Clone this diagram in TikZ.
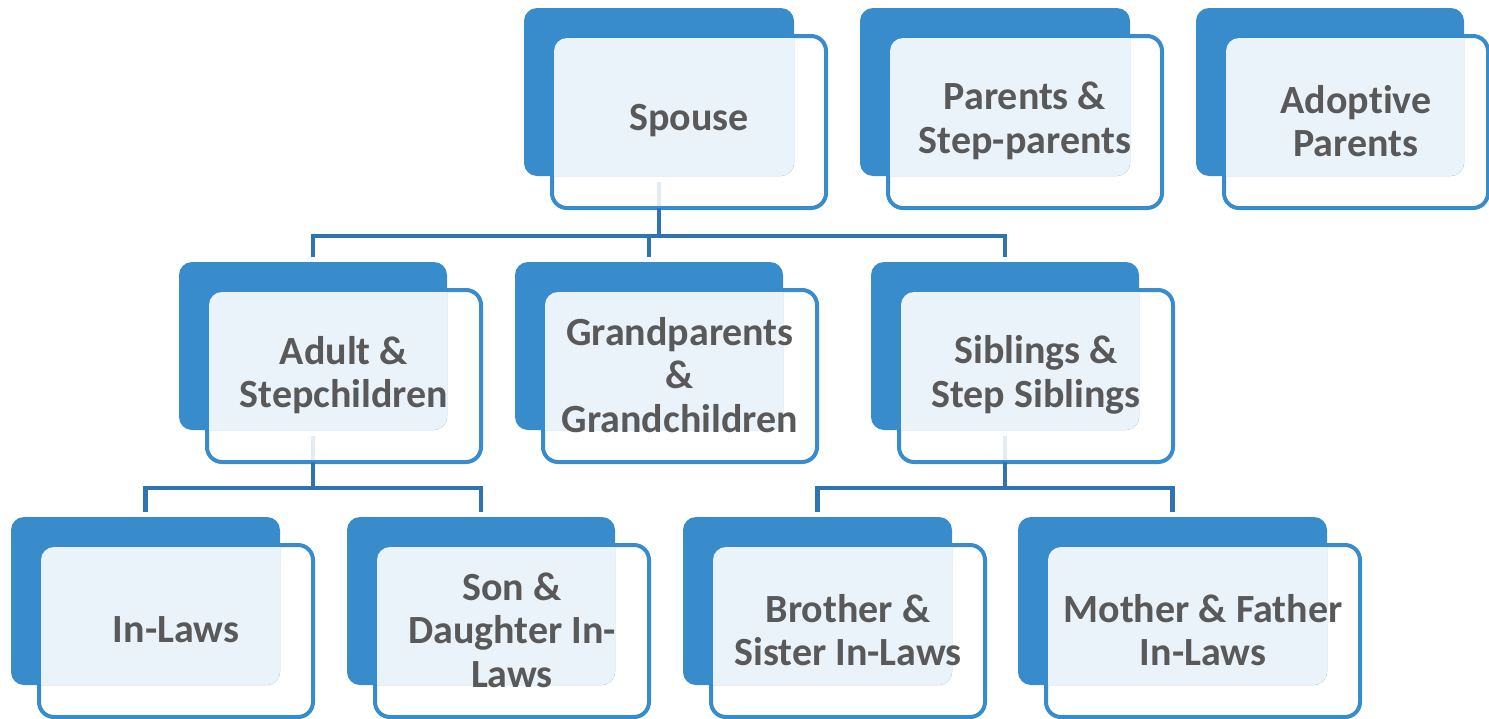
\documentclass[tikz,border=0pt]{standalone}
\usepackage{fontspec}
\setmainfont{Carlito}[Ligatures=NoCommon]
\usetikzlibrary{calc}
\definecolor{backblue}{HTML}{388CCB}
\definecolor{lightc}{HTML}{EAF2FA}
\definecolor{connc}{HTML}{2F74B0}
\definecolor{stemlight}{HTML}{E3EBF4}
\definecolor{textc}{HTML}{595959}
\tikzset{
  backbox/.style={fill=backblue, rounded corners=6.5pt, inner sep=0pt, outer sep=0pt},
  frontbox/.style={draw=backblue, fill=white, line width=2pt, rounded corners=7.5pt, inner sep=0pt, outer sep=0pt},
  cardtext/.style={text=textc, font=\fontsize{20}{21.8}\selectfont\bfseries, align=center, inner sep=0pt},
  conn/.style={draw=connc, line width=2.25pt},
  lightstem/.style={draw=stemlight, line width=2.25pt}
}
\newcommand\famcard[6]{%
  \node[frontbox, minimum width={(#5-30)*0.5pt}, minimum height=86pt] (#1F) at ({#2+13+#5/2},{#3+114}) {};
  \node[backbox, minimum width={#4*0.5pt}, minimum height=84pt] (#1) at ({#2+#4/2},{#3+84}) {};
  \begin{scope}
    \clip[rounded corners=6.5pt] ([shift={(2,2)}]#1F.north west) rectangle ([shift={(-2,-2)}]#1F.south east);
    \fill[lightc, rounded corners=6.5pt] (#1.north west) rectangle (#1.south east);
  \end{scope}
  \node[cardtext] (#1T) at ([yshift=0.5pt]#1F.center) {#6};
}
\begin{document}
\begin{tikzpicture}[x=0.5pt, y=-0.5pt]
\useasboundingbox (0,0) rectangle (1489,718);
% row 1
\famcard{spouse}{524}{8}{270}{304}{Spouse}
\famcard{parents}{860}{8}{270}{304}{Parents \&\\Step-parents}
\famcard{adoptive}{1196}{8}{268}{294}{Adoptive\\Parents}
% row 2
\famcard{adult}{179}{262}{268}{304}{Adult \&\\Stepchildren}
\famcard{grand}{515}{262}{268}{304}{Grandparents\\\&\\Grandchildren}
\famcard{siblings}{871}{262}{268}{304}{Siblings \&\\Step Siblings}
% row 3
\famcard{inlaws}{11}{517}{269}{304}{In-Laws}
\famcard{son}{347}{517}{268}{304}{Son \&\\Daughter In-\\Laws}
\famcard{brother}{683}{517}{269}{304}{Brother \&\\Sister In-Laws}
\famcard{mother}{1018}{517}{309}{344}{Mother \& Father\\In-Laws}
% buses
\coordinate (busA) at (649,236);
\coordinate (busB) at (313,488);
\coordinate (busC) at (1005,488);
% spouse stem
\draw[lightstem] ($(spouse.south)+(0,6)$) -- ($(spouse.south |- spouseF.south)+(0,-2)$);
\draw[conn] (spouse.south |- spouseF.south) -- (spouse.south |- busA);
\draw[conn] ($(adult.north)+(0,-5)$) |- (busA) -| ($(siblings.north)+(0,-5)$);
\draw[conn] (busA) -- ($(grand.north)+(0,-5)$);
% adult stem
\draw[lightstem] ($(adult.south)+(0,6)$) -- ($(adult.south |- adultF.south)+(0,-2)$);
\draw[conn] (adult.south |- adultF.south) -- (adult.south |- busB);
\draw[conn] ($(inlaws.north)+(0,-5)$) |- (busB) -| ($(son.north)+(0,-5)$);
% siblings stem
\draw[lightstem] ($(siblings.south)+(0,6)$) -- ($(siblings.south |- siblingsF.south)+(0,-2)$);
\draw[conn] (siblings.south |- siblingsF.south) -- (siblings.south |- busC);
\draw[conn] ($(brother.north)+(0,-5)$) |- (busC) -| ($(mother.north)+(0,-5)$);
\end{tikzpicture}
\end{document}
